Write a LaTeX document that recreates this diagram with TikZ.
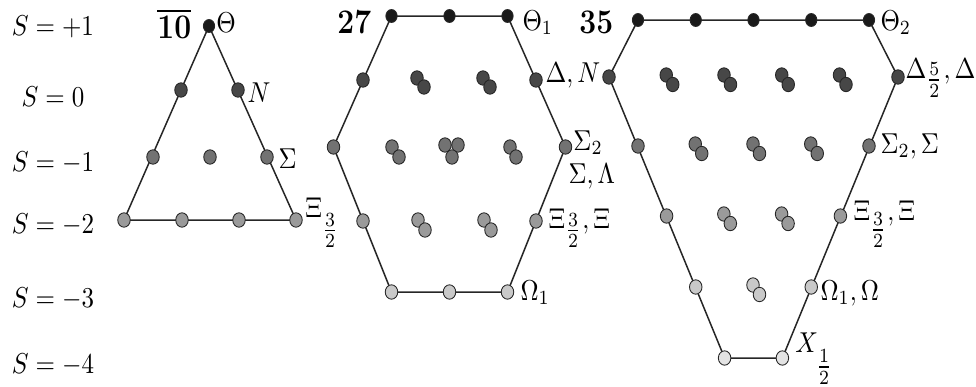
\documentclass[tikz,border=0pt]{standalone}
\usepackage{amsmath}
\usetikzlibrary{backgrounds}
\definecolor{WtTop}{HTML}{1A1A1A}
\definecolor{WtZero}{HTML}{474747}
\definecolor{WtOne}{HTML}{727272}
\definecolor{WtTwo}{HTML}{9A9A9A}
\definecolor{WtThree}{HTML}{C9C9C9}
\definecolor{WtFour}{HTML}{E3E3E3}
\newcommand{\subfrac}[3]{\raisebox{#1}[0pt][0pt]{$\tfrac{#2}{#3}$}}

\begin{document}
\begin{tikzpicture}[x=0.4pt, y=-0.4pt,
    wt/.style={circle, draw=black!85, line width=0.35pt, inner sep=0pt, minimum size=5pt, yscale=1.15},
    wtop/.style={wt, fill=WtTop, minimum size=4.5pt},
    wzero/.style={wt, fill=WtZero},
    wone/.style={wt, fill=WtOne},
    wtwo/.style={wt, fill=WtTwo},
    wthree/.style={wt, fill=WtThree},
    wfour/.style={wt, fill=WtFour},
    lab/.style={anchor=base west, inner sep=0pt, yscale=1.15},
    strange/.style={anchor=base, inner sep=0pt, yscale=1.15},
    rim/.style={line width=0.6pt, black!85}
  ]
  \useasboundingbox (0,0) rectangle (976,387);

  % strangeness rows
  \node[strange] (sp1) at (53,35) {$S=+1$};
  \node[strange] (s0) at (53,106) {$S=0$};
  \node[strange] (sm1) at (53,171) {$S=-1$};
  \node[strange] (sm2) at (53,233) {$S=-2$};
  \node[strange] (sm3) at (53,307) {$S=-3$};
  \node[strange] (sm4) at (53,373) {$S=-4$};

  % antidecuplet
  \node[wtop] (t0) at (209,26) {};
  \node[wzero] (t1a) at (181,90) {};
  \node[wzero] (t1b) at (238,90) {};
  \node[wone] (t2a) at (153,157) {};
  \node[wone] (t2b) at (210,157) {};
  \node[wone] (t2c) at (267,157) {};
  \node[wtwo] (t3a) at (124,220) {};
  \node[wtwo] (t3b) at (182,220) {};
  \node[wtwo] (t3c) at (239,220) {};
  \node[wtwo] (t3d) at (296,220) {};

  \node[lab, font=\fontsize{12.5}{15}\selectfont] (n10) at (157,38) {$\overline{\mathbf{10}}$};
  \node[lab] (lTheta) at (216,32) {$\Theta$};
  \node[lab] (lN) at (247,102) {$N$};
  \node[lab] (lSigma) at (278,168) {$\Sigma$};
  \node[lab] (lXi) at (305,217) {$\Xi_{\subfrac{-5.8pt}{3}{2}}$};

  % 27-plet
  \node[wtop] (h0a) at (391.5,16) {};
  \node[wtop] (h0b) at (449.5,16) {};
  \node[wtop] (h0c) at (507.5,16) {};
  \node[wzero] (h1l) at (363,80) {};
  \node[wzero] (h1r) at (536,80) {};
  \node[wzero] (h1p) at (417,78) {};
  \node[wzero] (h1q) at (424,87) {};
  \node[wzero] (h1s) at (483,78) {};
  \node[wzero] (h1t) at (490,87) {};
  \node[wone] (h2l) at (333.5,147) {};
  \node[wone] (h2r) at (565.5,147) {};
  \node[wone] (h2p) at (392,147) {};
  \node[wone] (h2q) at (399,157) {};
  \node[wone] (h2u) at (445,145) {};
  \node[wone] (h2v) at (458,145) {};
  \node[wone] (h2w) at (452,157) {};
  \node[wone] (h2s) at (510,147) {};
  \node[wone] (h2t) at (516,157) {};
  \node[wtwo] (h3l) at (363,221) {};
  \node[wtwo] (h3r) at (536,221) {};
  \node[wtwo] (h3p) at (418,220) {};
  \node[wtwo] (h3q) at (425,230) {};
  \node[wtwo] (h3s) at (484,220) {};
  \node[wtwo] (h3t) at (491,230) {};
  \node[wthree] (h4a) at (391.5,292) {};
  \node[wthree] (h4b) at (449.5,292) {};
  \node[wthree] (h4c) at (507.5,292) {};

  \node[lab, font=\fontsize{11.5}{14}\selectfont] (n27) at (337,33) {$\mathbf{27}$};
  \node[lab] (lTheta1) at (522,30) {$\Theta_1$};
  \node[lab] (lDeltaN) at (545,82) {$\Delta, N$};
  \node[lab] (lSigma2) at (573,150) {$\Sigma_2$};
  \node[lab] (lSigLam) at (568,183) {$\Sigma, \Lambda$};
  \node[lab] (lXi27) at (548,228) {$\Xi_{\subfrac{-2pt}{3}{2}}, \Xi$};
  \node[lab] (lOmega1) at (520,300) {$\Omega_1$};

  % 35-plet
  \foreach \k in {0,...,4}
    \node[wtop] (p1-\k) at ({638+57.75*\k},20) {};
  \node[wzero] (p2-0) at (609,77) {};
  \node[wzero] (p2-5) at (898,77) {};
  \foreach \k in {1,...,4} {
    \node[wzero] (p2-\k) at ({609+57.75*\k-0.5},75) {};
    \node[wzero] (q2-\k) at ({609+57.75*\k+6},84.5) {};
  }
  \node[wone] (p3-0) at (638,146) {};
  \node[wone] (p3-4) at (869,146) {};
  \foreach \k in {1,...,3} {
    \node[wone] (p3-\k) at ({638+57.75*\k-0.5},144) {};
    \node[wone] (q3-\k) at ({638+57.75*\k+6},153.5) {};
  }
  \node[wtwo] (p4-0) at (666.6,216) {};
  \node[wtwo] (p4-3) at (840.4,216) {};
  \foreach \k in {1,2} {
    \node[wtwo] (p4-\k) at ({666.6+57.75*\k-0.5},214) {};
    \node[wtwo] (q4-\k) at ({666.6+57.75*\k+6},223.5) {};
  }
  \node[wthree] (p5-0) at (695.75,287) {};
  \node[wthree] (p5-2) at (811.25,287) {};
  \node[wthree] (p5-1) at (753,285) {};
  \node[wthree] (q5-1) at (759.5,294.5) {};
  \node[wfour] (p6-0) at (724.6,358) {};
  \node[wfour] (p6-1) at (782.4,358) {};

  \node[lab, font=\fontsize{11.5}{14}\selectfont] (n35) at (579,33) {$\mathbf{35}$};
  \node[lab] (lTheta2) at (880,30) {$\Theta_2$};
  \node[lab] (lDelta) at (905,78) {$\Delta_{\subfrac{-1.7pt}{5}{2}}, \Delta$};
  \node[lab] (lSigma35) at (880,153) {$\Sigma_2, \Sigma$};
  \node[lab] (lXi35) at (853,220) {$\Xi_{\subfrac{-4.5pt}{3}{2}}, \Xi$};
  \node[lab] (lOmega35) at (820,300) {$\Omega_1, \Omega$};
  \node[lab] (lX) at (795,352) {$X_{\subfrac{-6.2pt}{1}{2}}$};

  % multiplet borders
  \begin{scope}[on background layer]
    \draw[rim] (t3a.center) -- (t0.center) -- (t3d.center) -- cycle;
    \draw[rim] (h0a.center) -- (h0c.center) -- (h2r.center) -- (h4c.center)
      -- (h4a.center) -- (h2l.center) -- cycle;
    \draw[rim] (p1-0.center) -- (p1-4.center) -- (p2-5.center) -- (p6-1.center)
      -- (p6-0.center) -- (p2-0.center) -- cycle;
  \end{scope}
\end{tikzpicture}
\end{document}
